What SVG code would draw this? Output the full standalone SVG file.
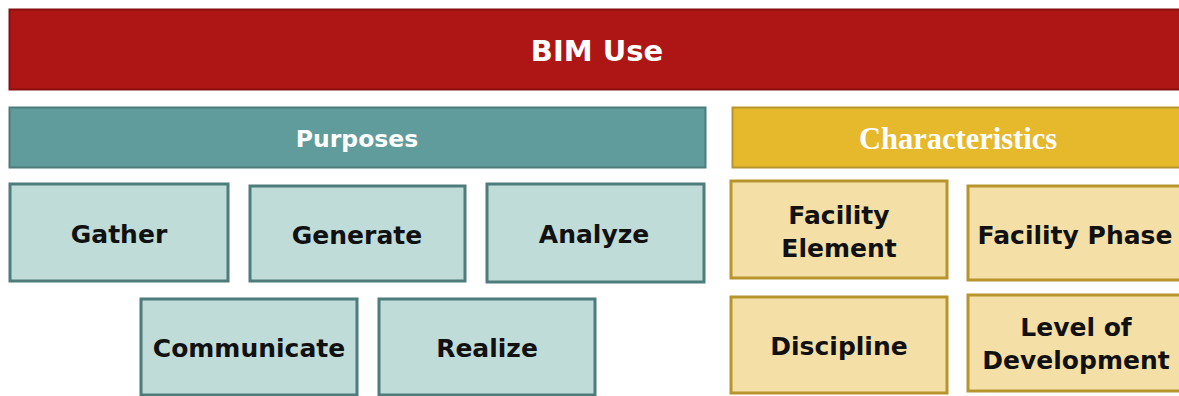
<svg xmlns="http://www.w3.org/2000/svg" width="1179" height="396" viewBox="0 0 1179 396">
<style>
.lbl{font-family:"DejaVu Sans","Liberation Sans",sans-serif;font-weight:bold;font-size:25px;fill:#111;text-anchor:middle;dominant-baseline:central}
.hdr{font-family:"DejaVu Sans","Liberation Sans",sans-serif;font-weight:bold;fill:#fff;text-anchor:middle;dominant-baseline:central}
.p{fill:#c0dcd9;stroke:#4d7c7b;stroke-width:3}
.c{fill:#f4e0a6;stroke:#b8952c;stroke-width:3}
</style>
<g id="bim-use">
<rect x="9.5" y="9.5" width="1180" height="80" fill="#ae1515" stroke="#8a1010" stroke-width="2"/>
<text class="hdr" x="597" y="51" font-size="29">BIM Use</text>
</g>
<g id="purposes">
<rect x="9.5" y="107.5" width="696" height="60" fill="#5f9c9b" stroke="#4d7c7b" stroke-width="2"/>
<text class="hdr" x="357" y="139" font-size="23.5">Purposes</text>
</g>
<g id="characteristics">
<rect x="732.5" y="107.5" width="460" height="60" fill="#e6b82c" stroke="#b8952c" stroke-width="2"/>
<text x="958" y="139" font-family="Liberation Serif,serif" font-weight="bold" font-size="30.5" fill="#fff" text-anchor="middle" dominant-baseline="central">Characteristics</text>
</g>
<g id="gather"><rect class="p" x="10" y="184" width="218" height="97"/><text class="lbl" x="119" y="234">Gather</text></g>
<g id="generate"><rect class="p" x="250" y="186" width="215" height="95"/><text class="lbl" x="357" y="235">Generate</text></g>
<g id="analyze"><rect class="p" x="487" y="184" width="217" height="98"/><text class="lbl" x="594" y="234">Analyze</text></g>
<g id="communicate"><rect class="p" x="141" y="299" width="216" height="96"/><text class="lbl" x="249" y="348">Communicate</text></g>
<g id="realize"><rect class="p" x="379" y="299" width="216" height="96"/><text class="lbl" x="487" y="348">Realize</text></g>
<g id="facility-element"><rect class="c" x="731" y="181" width="216" height="97"/><text class="lbl" x="839" y="215">Facility</text><text class="lbl" x="839" y="248">Element</text></g>
<g id="facility-phase"><rect class="c" x="968" y="186" width="220" height="94"/><text class="lbl" x="1075" y="235">Facility Phase</text></g>
<g id="discipline"><rect class="c" x="731" y="297" width="216" height="96"/><text class="lbl" x="839" y="346">Discipline</text></g>
<g id="level-of-development"><rect class="c" x="968" y="295" width="220" height="96"/><text class="lbl" x="1076" y="327">Level of</text><text class="lbl" x="1076" y="360">Development</text></g>
<g id="connectors"></g>
</svg>
